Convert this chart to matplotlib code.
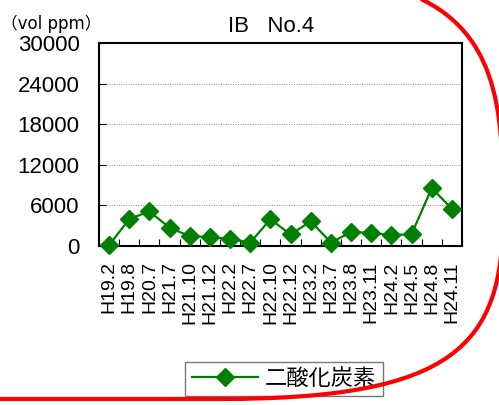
import numpy as np
import matplotlib
matplotlib.use("Agg")
import matplotlib.pyplot as plt
import matplotlib.transforms as mtransforms
from matplotlib.patches import PathPatch
from matplotlib.path import Path

plt.rcParams['font.family'] = ['Liberation Sans', 'Noto Sans CJK JP', 'DejaVu Sans']

# data
dates = ["H19.2", "H19.8", "H20.7", "H21.7", "H21.10", "H21.12", "H22.2", "H22.7",
         "H22.10", "H22.12", "H23.2", "H23.7", "H23.8", "H23.11", "H24.2", "H24.5",
         "H24.8", "H24.11"]
co2 = [100, 4000, 5100, 2700, 1450, 1300, 1050, 500,
       3950, 1700, 3650, 500, 2050, 1950, 1600, 1750,
       8550, 5500]
yticks = [0, 6000, 12000, 18000, 24000, 30000]

W, H = 499, 405
fig = plt.figure(figsize=(W/100, H/100), dpi=100)
ax = fig.add_axes([99/W, 1-246/H, 363/W, 203/H])

x = np.arange(len(dates))
ax.plot(x, co2, color='#008000', lw=1.6, marker='D', ms=9.5,
        markeredgecolor='#008000', label='二酸化炭素', clip_on=False, zorder=3)

ax.set_xlim(-0.5, len(dates) - 0.5)
ax.set_ylim(0, 30000)
ax.set_yticks(yticks)
ax.set_yticklabels([str(v) for v in yticks], fontsize=16)
ax.set_xticks(x)
ax.set_xticklabels(dates, rotation=90, fontsize=14)
ax.set_xticks(np.arange(len(dates) + 1) - 0.5, minor=True)
ax.tick_params(axis='x', which='major', length=0, pad=11)
ax.tick_params(axis='x', which='minor', direction='in', length=5, width=0.8)
ax.tick_params(axis='y', direction='in', length=5, width=0.8, pad=14)
ax.grid(axis='y', color='#888888', lw=0.7, ls=(0, (1, 1.5)))
for s in ax.spines.values():
    s.set_linewidth(1.5)

fig.text(271/W, 1-32/H, "IB   No.4", ha='center', va='baseline', fontsize=16)
fig.text(1/W, 1-29/H, "（vol ppm）", ha='left', va='baseline', fontsize=12,
         family=['DejaVu Sans', 'Noto Sans CJK JP'])

leg = fig.legend(loc='center', bbox_to_anchor=(284/W, 26/H), fontsize=16,
                 frameon=True, fancybox=False, edgecolor='#555555',
                 handlelength=3.0, borderpad=0.3, handletextpad=0.3)
leg.get_frame().set_linewidth(1.0)

# red hand-drawn outline around the chart (pixel coords, y down)
pts = [(-10, 399), (220, 399),
       (455, 399), (503, 345), (503, 215),
       (503, 125), (503, 40), (423, 0),
       (383, -20)]
codes = [Path.MOVETO, Path.LINETO,
         Path.CURVE4, Path.CURVE4, Path.CURVE4,
         Path.CURVE4, Path.CURVE4, Path.CURVE4,
         Path.LINETO]
ring = PathPatch(Path([(px, H - py) for px, py in pts], codes),
                 transform=mtransforms.IdentityTransform(), fill=False,
                 edgecolor='#ff0000', lw=3, zorder=10)
fig.patches.append(ring)

fig.savefig("out.png", dpi=100)
